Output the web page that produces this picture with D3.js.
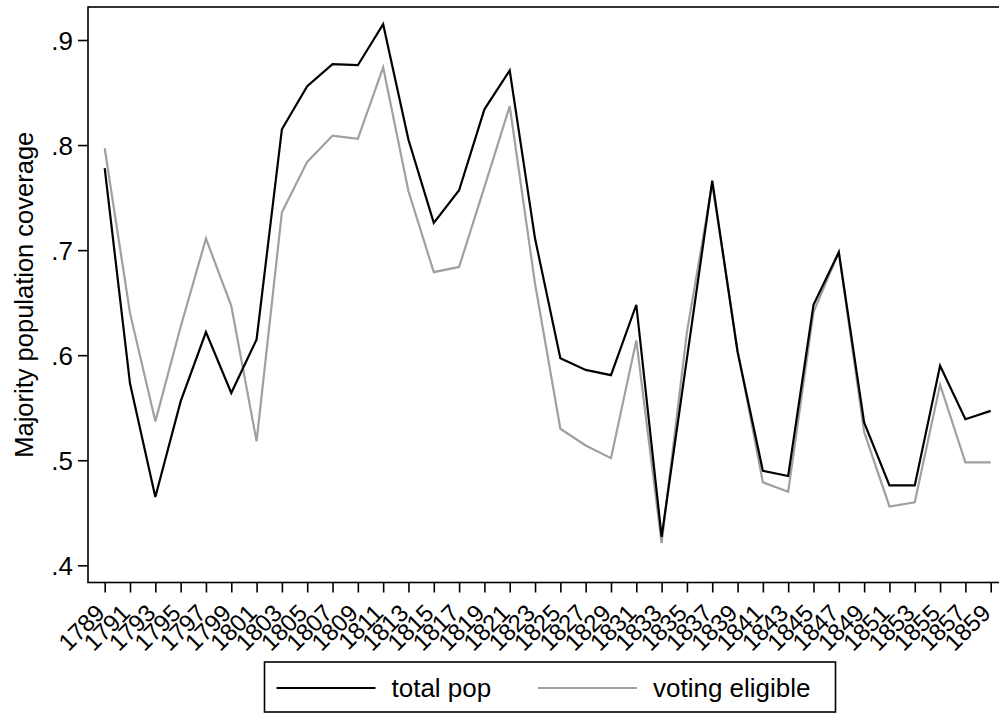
<!DOCTYPE html>
<html>
<head>
<meta charset="utf-8">
<script src="https://cdn.jsdelivr.net/npm/d3@7"></script>
<style>
  body { margin: 0; background: #fff; }
  svg { display: block; font-family: "Liberation Sans", Arial, Helvetica, sans-serif; }
</style>
</head>
<body>
<svg id="chart" width="999" height="713"></svg>
<script>
const years = [1789, 1791, 1793, 1795, 1797, 1799, 1801, 1803, 1805, 1807, 1809, 1811,
  1813, 1815, 1817, 1819, 1821, 1823, 1825, 1827, 1829, 1831, 1833, 1835,
  1837, 1839, 1841, 1843, 1845, 1847, 1849, 1851, 1853, 1855, 1857, 1859];

const totalPop = [.778, .573, .465, .556, .622, .564, .615, .815, .856, .877, .876, .915,
  .805, .726, .757, .834, .871, .711, .597, .586, .581, .648, .427, .597,
  .766, .603, .490, .485, .648, .698, .536, .476, .476, .590, .539, .547];

const votingEligible = [.797, .640, .537, .627, .711, .647, .518, .736, .784, .809, .806, .874,
  .756, .679, .684, .760, .837, .668, .530, .514, .502, .614, .421, .622,
  .763, .605, .479, .470, .641, .698, .527, .456, .460, .572, .498, .498];

const yTicks = [.4, .5, .6, .7, .8, .9];

const series = [
  { name: "total pop", values: totalPop, color: "#000000" },
  { name: "voting eligible", values: votingEligible, color: "#a0a0a0" }
];

const svg = d3.select("#chart");

const plot = { left: 88, top: 7, right: 1000, bottom: 582.5 };

const x = d3.scaleLinear()
  .domain([1789, 1859])
  .range([104.7, 990.7]);

const y = d3.scaleLinear()
  .domain([0.4, 0.9])
  .range([565.3, 40]);

// frame
svg.append("rect")
  .attr("x", plot.left)
  .attr("y", plot.top)
  .attr("width", plot.right - plot.left)
  .attr("height", plot.bottom - plot.top)
  .attr("fill", "none")
  .attr("stroke", "#000")
  .attr("stroke-width", 1.6);

// y axis
const yAxis = svg.append("g")
  .attr("transform", `translate(${plot.left},0)`)
  .call(d3.axisLeft(y)
    .tickValues(yTicks)
    .tickSize(10)
    .tickPadding(5)
    .tickFormat(d => d3.format(".1f")(d).replace(/^0/, "")));
yAxis.select(".domain").remove();
yAxis.selectAll(".tick line").attr("stroke-width", 1.6);
yAxis.selectAll("text")
  .attr("font-size", 26)
  .attr("font-family", "Liberation Sans, Arial, sans-serif")
  .attr("fill", "#000")
  .attr("dy", "0.36em");

// x axis
const xAxis = svg.append("g")
  .attr("transform", `translate(0,${plot.bottom})`)
  .call(d3.axisBottom(x)
    .tickValues(years)
    .tickSize(10)
    .tickFormat(d3.format("d")));
xAxis.select(".domain").remove();
xAxis.selectAll(".tick line").attr("stroke-width", 1.6);
xAxis.selectAll("text")
  .attr("font-size", 24)
  .attr("font-family", "Liberation Sans, Arial, sans-serif")
  .attr("fill", "#000")
  .attr("text-anchor", "end")
  .attr("y", 0)
  .attr("dy", 0)
  .attr("transform", "translate(1,32) rotate(-45)");

// y title
svg.append("text")
  .attr("transform", `translate(33,${(plot.top + plot.bottom) / 2}) rotate(-90)`)
  .attr("text-anchor", "middle")
  .attr("font-size", 25.5)
  .text("Majority population coverage");

// lines
const line = d3.line()
  .x((d, i) => x(years[i]))
  .y(d => y(d));

svg.selectAll("path.series")
  .data(series.slice().reverse())
  .join("path")
  .attr("class", "series")
  .attr("d", d => line(d.values))
  .attr("fill", "none")
  .attr("stroke", d => d.color)
  .attr("stroke-width", 2.2)
  .attr("stroke-linejoin", "miter");

// legend
const legend = svg.append("g");
legend.append("rect")
  .attr("x", 264.5)
  .attr("y", 662)
  .attr("width", 571)
  .attr("height", 50)
  .attr("fill", "#fff")
  .attr("stroke", "#000")
  .attr("stroke-width", 1.6);

const legendX = [276.5, 538];
series.forEach((s, i) => {
  const g = legend.append("g").attr("transform", `translate(${legendX[i]},688)`);
  g.append("line")
    .attr("x1", 0).attr("x2", 99)
    .attr("stroke", s.color)
    .attr("stroke-width", 2.2);
  g.append("text")
    .attr("x", 115)
    .attr("dy", "0.35em")
    .attr("font-size", 26)
    .text(s.name);
});
</script>
</body>
</html>
